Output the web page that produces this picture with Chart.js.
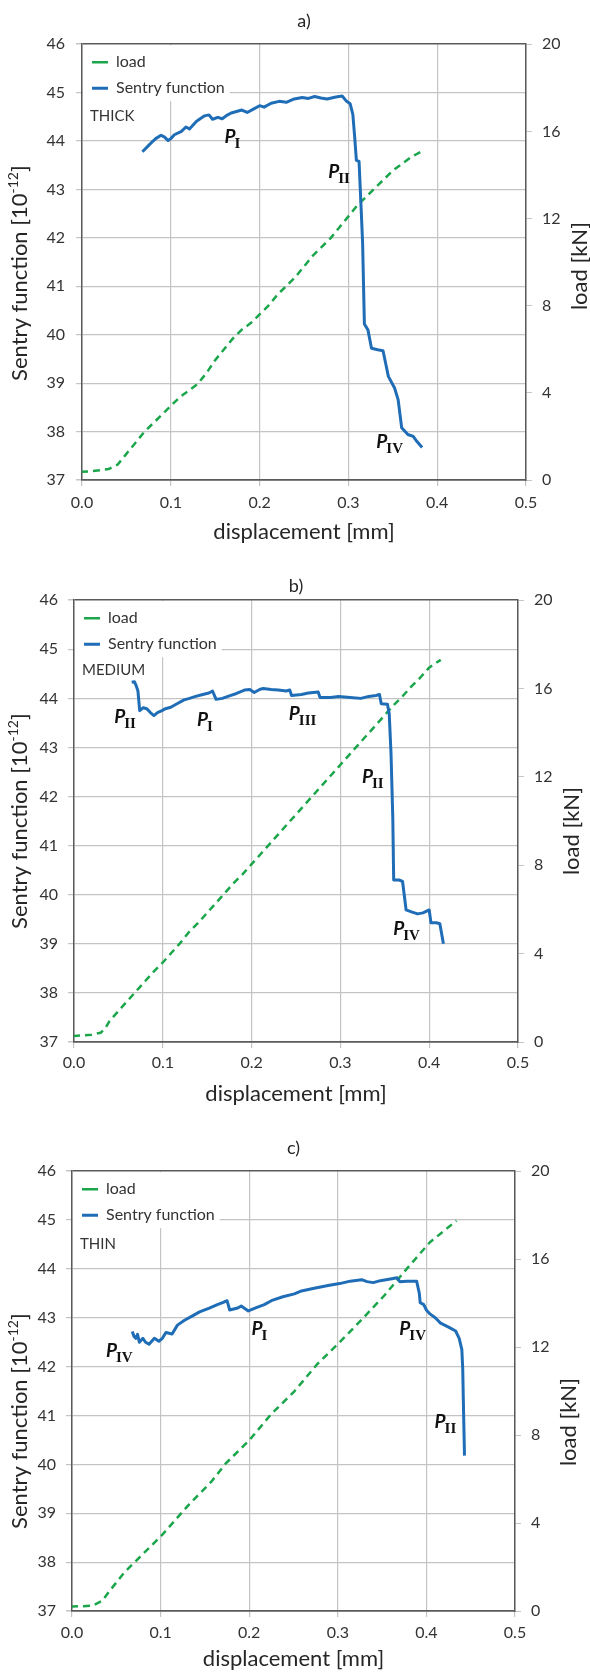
<!DOCTYPE html>
<html>
<head>
<meta charset="utf-8">
<title>Sentry function vs displacement</title>
<script src="https://cdn.jsdelivr.net/npm/chart.js@4.4.1/dist/chart.umd.min.js"></script>
<style>
  body { margin: 0; background: #fff; }
  .panel { position: absolute; left: 0; width: 590px; }
  canvas { display: block; }
</style>
</head>
<body>
<div class="panel" style="top:0"><canvas id="chartA" width="590" height="550"></canvas></div>
<div class="panel" style="top:550px"><canvas id="chartB" width="590" height="560"></canvas></div>
<div class="panel" style="top:1110px"><canvas id="chartC" width="590" height="563"></canvas></div>
<script>
// tick labels
const xTicks = [0, 0.1, 0.2, 0.3, 0.4, 0.5];
const sentryTicks = [37, 38, 39, 40, 41, 42, 43, 44, 45, 46];
const loadTicks = [0, 4, 8, 12, 16, 20];

// a) THICK
const loadDispA = [0, 0.01, 0.02, 0.03, 0.04, 0.05, 0.06, 0.07, 0.08, 0.09, 0.10, 0.11, 0.12, 0.13, 0.14, 0.15, 0.16, 0.17, 0.18, 0.19, 0.20,
  0.21, 0.22, 0.23, 0.24, 0.25, 0.26, 0.27, 0.28, 0.29, 0.30, 0.31, 0.32, 0.33, 0.34, 0.35, 0.36, 0.37, 0.383];
const loadA = [0.38, 0.40, 0.45, 0.5, 0.7, 1.2, 1.7, 2.2, 2.6, 3.0, 3.4, 3.8, 4.1, 4.4, 4.9, 5.5, 6.0, 6.5, 6.9, 7.2, 7.6,
  8.0, 8.5, 8.9, 9.3, 9.8, 10.3, 10.7, 11.1, 11.6, 12.1, 12.6, 13.0, 13.4, 13.8, 14.2, 14.5, 14.8, 15.1];
const sentryDispA = [0.068, 0.074, 0.080, 0.083, 0.089, 0.093, 0.097, 0.100, 0.104, 0.112, 0.117, 0.121, 0.129, 0.138, 0.143, 0.147,
  0.153, 0.158, 0.163, 0.168, 0.174, 0.180, 0.186, 0.193, 0.200, 0.205, 0.213, 0.222, 0.230, 0.239, 0.248, 0.255, 0.262, 0.269,
  0.276, 0.286, 0.293, 0.298, 0.302, 0.305, 0.307, 0.309, 0.312, 0.314, 0.316, 0.318, 0.322, 0.326, 0.333, 0.339, 0.345, 0.352,
  0.356, 0.360, 0.367, 0.373, 0.377, 0.383];
const sentryA = [43.78, 43.89, 44.00, 44.05, 44.12, 44.08, 44.01, 44.05, 44.13, 44.20, 44.29, 44.25, 44.41, 44.52, 44.54, 44.45,
  44.49, 44.46, 44.53, 44.58, 44.61, 44.64, 44.59, 44.66, 44.73, 44.70, 44.78, 44.82, 44.80, 44.87, 44.90, 44.88, 44.92, 44.89,
  44.87, 44.91, 44.93, 44.82, 44.77, 44.55, 44.10, 43.60, 43.58, 42.75, 41.90, 40.22, 40.10, 39.72, 39.69, 39.67, 39.14, 38.90,
  38.66, 38.08, 37.94, 37.90, 37.80, 37.67];
const marksA = [['I', 0.170, 44.10], ['II', 0.290, 43.39], ['IV', 0.347, 37.81]];

// b) MEDIUM
const loadDispB = [0, 0.01, 0.02, 0.03, 0.035, 0.04, 0.05, 0.06, 0.07, 0.08, 0.09, 0.10, 0.11, 0.12, 0.13, 0.14, 0.15, 0.16, 0.17,
  0.18, 0.19, 0.20, 0.21, 0.22, 0.23, 0.24, 0.25, 0.26, 0.27, 0.28, 0.29, 0.30, 0.31, 0.32, 0.33, 0.34, 0.35, 0.36, 0.37, 0.38,
  0.39, 0.40, 0.413];
const loadB = [0.27, 0.3, 0.33, 0.42, 0.6, 0.95, 1.4, 1.85, 2.3, 2.75, 3.2, 3.6, 4.05, 4.5, 5.0, 5.4, 5.85, 6.3, 6.75,
  7.2, 7.6, 8.05, 8.5, 8.95, 9.4, 9.85, 10.3, 10.75, 11.2, 11.65, 12.1, 12.55, 13.0, 13.45, 13.9, 14.35, 14.8, 15.25, 15.65, 16.1,
  16.5, 16.95, 17.3];
const sentryDispB = [0.065, 0.068, 0.070, 0.072, 0.074, 0.078, 0.082, 0.086, 0.090, 0.094, 0.099, 0.103, 0.109, 0.116, 0.124,
  0.130, 0.137, 0.145, 0.152, 0.156, 0.160, 0.167, 0.175, 0.183, 0.192, 0.198, 0.203, 0.209, 0.213, 0.222, 0.230, 0.239, 0.243,
  0.245, 0.256, 0.264, 0.275, 0.277, 0.289, 0.298, 0.311, 0.323, 0.332, 0.340, 0.344, 0.346, 0.353, 0.355, 0.357, 0.359, 0.360,
  0.366, 0.370, 0.372, 0.374, 0.380, 0.387, 0.393, 0.400, 0.402, 0.408, 0.412, 0.416];
const sentryB = [44.33, 44.34, 44.26, 44.15, 43.75, 43.81, 43.79, 43.71, 43.65, 43.71, 43.75, 43.79, 43.82, 43.89, 43.97,
  44.00, 44.04, 44.08, 44.11, 44.15, 43.98, 44.00, 44.05, 44.10, 44.17, 44.18, 44.12, 44.18, 44.20, 44.18, 44.17, 44.15, 44.17,
  44.06, 44.08, 44.11, 44.13, 44.02, 44.02, 44.04, 44.02, 44.00, 44.04, 44.06, 44.08, 43.89, 43.88, 43.68, 42.88, 41.57, 40.30,
  40.30, 40.27, 39.98, 39.69, 39.65, 39.61, 39.63, 39.69, 39.43, 39.43, 39.41, 39.00];
const marksB = [['II', 0.058, 43.64], ['I', 0.148, 43.59], ['III', 0.258, 43.71], ['II', 0.337, 42.41], ['IV', 0.375, 39.33]];

// c) THIN
const loadDispC = [0, 0.023, 0.034, 0.042, 0.059, 0.072, 0.102, 0.132, 0.157, 0.174, 0.200, 0.225, 0.251, 0.276, 0.302, 0.327,
  0.353, 0.378, 0.404, 0.434];
const loadC = [0.2, 0.24, 0.46, 0.89, 1.75, 2.27, 3.47, 4.84, 5.87, 6.73, 7.76, 8.96, 9.99, 11.19, 12.22, 13.25,
  14.37, 15.57, 16.77, 17.75];
const sentryDispC = [0.068, 0.070, 0.072, 0.074, 0.076, 0.080, 0.083, 0.087, 0.091, 0.093, 0.098, 0.102, 0.106, 0.113, 0.119,
  0.127, 0.136, 0.144, 0.155, 0.164, 0.170, 0.175, 0.178, 0.187, 0.191, 0.199, 0.208, 0.217, 0.225, 0.238, 0.251, 0.259, 0.272,
  0.289, 0.302, 0.314, 0.327, 0.333, 0.340, 0.348, 0.361, 0.367, 0.370, 0.378, 0.389, 0.392, 0.393, 0.397, 0.400, 0.404, 0.410,
  0.416, 0.425, 0.433, 0.437, 0.440, 0.441, 0.442, 0.443];
const sentryC = [42.72, 42.62, 42.58, 42.66, 42.50, 42.58, 42.50, 42.46, 42.54, 42.58, 42.52, 42.58, 42.70, 42.67, 42.85,
  42.95, 43.04, 43.12, 43.20, 43.27, 43.31, 43.35, 43.16, 43.20, 43.24, 43.14, 43.21, 43.27, 43.35, 43.43, 43.49, 43.55, 43.60,
  43.66, 43.70, 43.75, 43.78, 43.74, 43.72, 43.76, 43.80, 43.82, 43.74, 43.75, 43.75, 43.50, 43.31, 43.27, 43.16, 43.08, 43.00,
  42.89, 42.81, 42.73, 42.58, 42.35, 41.96, 41.03, 40.18];
const marksC = [['IV', 0.054, 42.34], ['I', 0.212, 42.80], ['IV', 0.385, 42.79], ['II', 0.422, 40.89]];

const FONT = 'Lato, "Open Sans", sans-serif';
const GREEN = '#1ca64c';
const BLUE = '#1f6db6';
const GRID = '#c4c4c4';
const AXIS = '#5a5a5a';
const TEXT = '#262626';

Chart.defaults.font.family = FONT;

function zip(xs, ys) {
  return xs.map((x, i) => ({ x: x, y: ys[i] }));
}

function drawMark(ctx, px, py, sub) {
  ctx.font = 'italic bold 19px Lato';
  const wP = ctx.measureText('P').width;
  ctx.font = 'bold 15px "Liberation Serif"';
  const wS = ctx.measureText(sub).width;
  const x0 = px - (wP + wS) / 2;
  ctx.fillStyle = '#111';
  ctx.textAlign = 'left';
  ctx.textBaseline = 'alphabetic';
  ctx.font = 'italic bold 19px Lato';
  ctx.fillText('P', x0, py + 7);
  ctx.font = 'bold 15px "Liberation Serif"';
  ctx.fillText(sub, x0 + wP - 1, py + 12);
}

function makeExtras(p) {
  return {
    id: 'extras',
    afterLayout(chart) {
      // keep the legend inside the plot, top left
      const lg = chart.legend, a = chart.chartArea;
      lg.left = a.left; lg.top = a.top; lg.right = a.right; lg.bottom = a.bottom;
    },
    beforeDatasetsDraw(chart) {
      // white box behind the legend, then legend on top of the grid
      const ctx = chart.ctx, area = chart.chartArea, lg = chart.legend;
      let right = area.left;
      lg.legendHitBoxes.forEach(b => { right = Math.max(right, b.left + b.width); });
      ctx.save();
      ctx.fillStyle = '#fff';
      ctx.fillRect(area.left + 1, area.top + 1, right + 4 - area.left, 56);
      ctx.restore();
      lg.draw();
    },
    afterDatasetsDraw(chart) {
      const ctx = chart.ctx, area = chart.chartArea;
      const xs = chart.scales.x, ys = chart.scales.y;
      ctx.save();
      p.marks.forEach(m => drawMark(ctx, xs.getPixelForValue(m[1]), ys.getPixelForValue(m[2]), m[0]));
      ctx.font = '15px ' + FONT;
      ctx.fillStyle = '#333';
      ctx.textAlign = 'left';
      ctx.textBaseline = 'middle';
      ctx.fillText(p.caseLabel, area.left + 8, area.top + p.caseTop);
      ctx.restore();
    },
    afterDraw(chart) {
      const ctx = chart.ctx, area = chart.chartArea;
      const cy = (area.top + area.bottom) / 2;
      ctx.save();
      ctx.fillStyle = TEXT;
      ctx.textBaseline = 'middle';
      ctx.textAlign = 'left';
      // left axis title with superscript
      ctx.translate(20, cy + p.leftShift);
      ctx.rotate(-Math.PI / 2);
      const main = 'Sentry function [10', sup = '-12', close = ']';
      ctx.font = '22px ' + FONT;
      const w1 = ctx.measureText(main).width, w3 = ctx.measureText(close).width;
      ctx.font = '14px ' + FONT;
      const w2 = ctx.measureText(sup).width;
      const x = -(w1 + w2 + w3) / 2;
      ctx.font = '22px ' + FONT;
      ctx.fillText(main, x, 0);
      ctx.font = '14px ' + FONT;
      ctx.fillText(sup, x + w1, -7);
      ctx.font = '22px ' + FONT;
      ctx.fillText(close, x + w1 + w2, 0);
      ctx.restore();
      // right axis title, read bottom to top
      ctx.save();
      ctx.fillStyle = TEXT;
      ctx.textBaseline = 'middle';
      ctx.textAlign = 'center';
      ctx.font = '22px ' + FONT;
      ctx.translate(area.right + 53.5, cy + p.rightShift);
      ctx.rotate(-Math.PI / 2);
      ctx.fillText('load [kN]', 0, 0);
      ctx.restore();
    }
  };
}

function tickList(arr) {
  return s => { s.ticks = arr.map(v => ({ value: v })); };
}

function buildChart(id, p) {
  const firstS = sentryTicks[0], lastS = sentryTicks[sentryTicks.length - 1];
  const edge = c => c.tick && (c.tick.value === firstS || c.tick.value === lastS);
  return new Chart(document.getElementById(id), {
    type: 'line',
    data: {
      datasets: [
        { label: 'load', data: zip(p.loadX, p.load), yAxisID: 'yLoad', borderColor: GREEN, backgroundColor: GREEN,
          borderWidth: 2.5, borderDash: [7, 5], borderDashOffset: 1, order: 1 },
        { label: 'Sentry function', data: zip(p.sentryX, p.sentry), yAxisID: 'y', borderColor: BLUE, backgroundColor: BLUE,
          borderWidth: 3, order: 0 }
      ]
    },
    options: {
      responsive: false,
      animation: false,
      layout: { padding: 0 },
      elements: {
        point: { radius: 0 },
        line: { tension: 0, borderJoinStyle: 'round' }
      },
      plugins: {
        title: { display: true, text: p.title, fullSize: false, color: TEXT, font: { size: 18, weight: 'normal' },
          padding: { top: p.titleTop, bottom: p.titleBottom } },
        legend: {
          position: 'chartArea',
          align: 'start',
          labels: {
            usePointStyle: true, pointStyle: 'line', pointStyleWidth: 16, padding: 10,
            color: '#333', font: { size: 16 },
            sort: (a, b) => a.datasetIndex - b.datasetIndex
          }
        },
        tooltip: { enabled: false }
      },
      scales: {
        x: {
          type: 'linear', min: 0, max: 0.5,
          afterBuildTicks: tickList(xTicks),
          afterFit: s => { s.height = p.xHeight; },
          grid: { color: GRID, lineWidth: 1.2, tickLength: 6 },
          border: { color: AXIS, width: 1.5 },
          ticks: { padding: p.xPad, color: '#333', font: { size: 16 }, maxRotation: 0, autoSkip: false,
            callback: v => Number(v).toFixed(1) },
          title: { display: true, text: 'displacement [mm]', color: TEXT, font: { size: 22 },
            padding: { top: 0, bottom: p.xTitlePad } }
        },
        y: {
          position: 'left', min: 37, max: 46,
          afterBuildTicks: tickList(sentryTicks),
          afterFit: s => { s.width = p.left; },
          grid: { color: c => edge(c) ? AXIS : GRID, lineWidth: c => edge(c) ? 1.5 : 1.2, tickColor: GRID, tickLength: 6 },
          border: { color: AXIS, width: 1.5 },
          ticks: { padding: p.yPad, color: '#333', font: { size: 16 } }
        },
        yLoad: {
          position: 'right', min: 0, max: 20,
          afterBuildTicks: tickList(loadTicks),
          afterFit: s => { s.width = 590 - p.right; },
          grid: { drawOnChartArea: false, color: GRID, tickLength: 6 },
          border: { color: AXIS, width: 1.5 },
          ticks: { padding: 10, color: '#333', font: { size: 16 } }
        }
      }
    },
    plugins: [makeExtras(p)]
  });
}

buildChart('chartA', {
  title: 'a)', titleTop: 10.8, titleBottom: 11.8, left: 82, right: 526, xHeight: 70, xPad: 7.4, xTitlePad: 4.8, yPad: 11,
  loadX: loadDispA, load: loadA, sentryX: sentryDispA, sentry: sentryA, marks: marksA,
  caseLabel: 'THICK', caseTop: 72, leftShift: 11, rightShift: 4
});
buildChart('chartB', {
  title: 'b)', titleTop: 25.8, titleBottom: 2.8, left: 74, right: 518, xHeight: 68, xPad: 5.4, xTitlePad: 3.3, yPad: 10,
  loadX: loadDispB, load: loadB, sentryX: sentryDispB, sentry: sentryB, marks: marksB,
  caseLabel: 'MEDIUM', caseTop: 70, leftShift: 0, rightShift: 10
});
buildChart('chartC', {
  title: 'c)', titleTop: 27.8, titleBottom: 11.8, left: 72, right: 515, xHeight: 62, xPad: 6.4, xTitlePad: 0.8, yPad: 10,
  loadX: loadDispC, load: loadC, sentryX: sentryDispC, sentry: sentryC, marks: marksC,
  caseLabel: 'THIN', caseTop: 73, leftShift: 30, rightShift: 31
});
</script>
</body>
</html>
